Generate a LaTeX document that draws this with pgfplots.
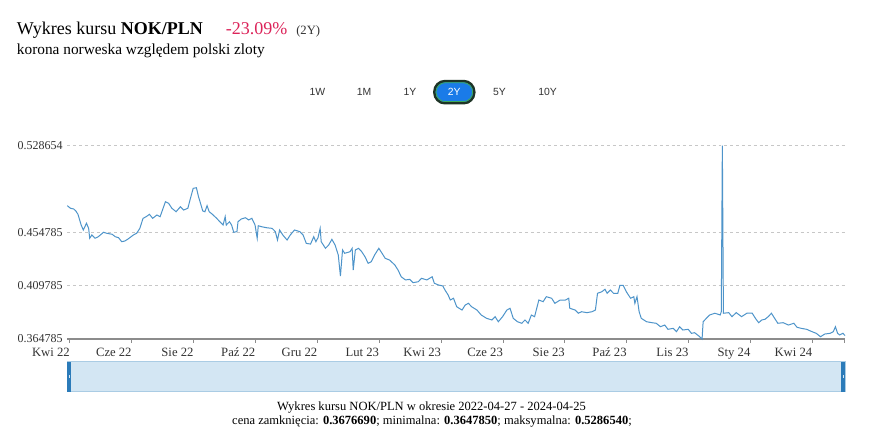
\documentclass[border=0pt]{standalone}
\usepackage{fontspec}
\setmainfont{Liberation Serif}
\newfontfamily\sansf{Liberation Sans}
\usepackage{pgfplots}
\pgfplotsset{compat=1.18}
\definecolor{serie}{RGB}{78,148,202}
\definecolor{pct}{RGB}{220,36,90}
\definecolor{txt}{RGB}{51,51,51}
\definecolor{navfill}{RGB}{211,230,243}
\definecolor{navedge}{RGB}{170,204,228}
\definecolor{handle}{RGB}{43,123,185}
\definecolor{btn}{RGB}{26,123,232}
\definecolor{btnedge}{RGB}{30,52,38}
\definecolor{btngreen}{RGB}{60,170,90}
\pgfplotstableread{
d v
0 0.4777
3 0.4755
6 0.4749
8 0.4732
10 0.4704
13 0.4613
15 0.4571
18 0.4628
20 0.4585
21 0.4501
23 0.4529
26 0.4501
29 0.4514
34 0.4552
37 0.4543
42 0.4535
45 0.4514
48 0.4506
51 0.4472
54 0.4478
57 0.4495
62 0.4529
65 0.4543
68 0.4585
71 0.4670
74 0.4684
77 0.4704
80 0.4670
84 0.4698
87 0.4684
92 0.4811
95 0.4797
98 0.4755
102 0.4726
106 0.4768
109 0.4740
113 0.4755
115 0.4825
118 0.4924
121 0.4929
123 0.4853
127 0.4732
129 0.4726
131 0.4777
133 0.4726
136 0.4704
140 0.4670
143 0.4641
146 0.4613
148 0.4684
149 0.4613
152 0.4641
154 0.4613
156 0.4552
159 0.4557
160 0.4641
163 0.4664
167 0.4675
170 0.4656
173 0.4670
176 0.4613
178 0.4501
179 0.4607
182 0.4599
187 0.4590
192 0.4585
195 0.4557
197 0.4486
199 0.4571
202 0.4529
206 0.4486
209 0.4529
213 0.4571
218 0.4557
221 0.4529
224 0.4458
228 0.4452
231 0.4514
233 0.4472
235 0.4506
237 0.4585
238 0.4472
242 0.4416
245 0.4444
248 0.4492
251 0.4444
254 0.4359
256 0.4181
258 0.4402
260 0.4374
265 0.4387
267 0.4416
268 0.4232
270 0.4402
273 0.4416
276 0.4387
279 0.4345
282 0.4289
285 0.4303
288 0.4359
292 0.4416
295 0.4374
298 0.4331
302 0.4317
307 0.4275
310 0.4232
313 0.4175
317 0.4148
321 0.4153
324 0.4125
329 0.4133
332 0.4162
337 0.4148
342 0.4175
344 0.4120
348 0.4105
352 0.4097
354 0.4063
357 0.4020
359 0.3978
362 0.3993
365 0.3921
370 0.3893
373 0.3936
376 0.3950
379 0.3921
384 0.3893
388 0.3851
393 0.3823
398 0.3809
401 0.3837
404 0.3794
408 0.3837
412 0.3893
415 0.3908
418 0.3823
422 0.3794
426 0.3781
429 0.3809
432 0.3781
435 0.3851
438 0.3837
442 0.3978
446 0.3964
449 0.4006
454 0.3993
457 0.3950
462 0.3978
467 0.3978
470 0.3993
471 0.3908
476 0.3893
479 0.3866
482 0.3879
487 0.3871
492 0.3879
495 0.3893
497 0.4035
501 0.4048
504 0.4069
506 0.4035
509 0.4063
512 0.4035
516 0.4035
518 0.4103
521 0.4103
524 0.4048
528 0.3993
531 0.4006
532 0.3950
534 0.4006
536 0.3879
538 0.3823
543 0.3794
548 0.3786
552 0.3781
556 0.3752
560 0.3766
563 0.3730
568 0.3738
571 0.3710
574 0.3752
577 0.3724
582 0.3730
585 0.3696
588 0.3701
592 0.3673
595 0.364785
596 0.3794
599 0.3823
602 0.3851
607 0.3866
612 0.3851
613 0.3879
614 0.528654
615 0.3866
620 0.3871
623 0.3837
627 0.3871
632 0.3837
637 0.3866
642 0.3866
645 0.3823
648 0.3786
651 0.3809
654 0.3815
657 0.3837
660 0.3866
663 0.3823
666 0.3781
671 0.3786
676 0.3766
681 0.3781
684 0.3747
688 0.3738
693 0.3730
698 0.3710
702 0.3696
706 0.3667
710 0.3690
715 0.3696
718 0.3710
720 0.3752
722 0.3696
724 0.3682
727 0.3696
729 0.367669
}\nokpln
\begin{document}
\begin{tikzpicture}[x=0.75pt,y=0.75pt]
\path[use as bounding box, fill=white] (0,0) rectangle (872,432);
% title
\node[anchor=base west, inner sep=0pt, font=\fontsize{13.5}{16}\selectfont] at (16.7,397.7) {Wykres kursu \textbf{NOK/PLN}};
\node[anchor=base west, inner sep=0pt, text=pct, font=\fontsize{13.5}{16}\selectfont] at (225.7,397.7) {-23.09\%};
\node[anchor=base west, inner sep=0pt, text=txt, font=\fontsize{9.5}{11}\selectfont] at (296,397.7) {(2Y)};
\node[anchor=base west, inner sep=0pt, font=\fontsize{11.5}{14}\selectfont] at (16.7,377.7) {korona norweska względem polski zloty};
% buttons
\draw[btnedge, line width=1.8pt, fill=btn, rounded corners=8pt] (434.3,328.7) rectangle (474.3,351);
\draw[btngreen, line width=0.6pt, rounded corners=7pt] (436,330.4) rectangle (472.6,349.3);
\begin{scope}[every node/.style={font=\sansf\fontsize{7.8}{9}\selectfont, text=txt, inner sep=0pt}]
\node at (317.5,340) {1W};
\node at (364,340) {1M};
\node at (410,340) {1Y};
\node[text=white] at (454.3,340) {2Y};
\node at (499.5,340) {5Y};
\node at (547.5,340) {10Y};
\end{scope}
% navigator
\draw[navedge, fill=navfill, line width=0.75pt] (67.3,40) rectangle (845,70);
\fill[handle] (67.3,40) rectangle (71,70);
\fill[handle] (841.3,40) rectangle (845,70);
\fill[white!80!handle] (68.6,53.5) rectangle (69.7,56.5);
\fill[white!80!handle] (842.6,53.5) rectangle (843.7,56.5);
% bottom text
\node[inner sep=0pt, font=\fontsize{9.4}{11}\selectfont] at (431.5,24) {Wykres kursu NOK/PLN w okresie 2022-04-27 - 2024-04-25};
\node[inner sep=0pt, font=\fontsize{9.4}{11}\selectfont] at (432,10) {cena zamknięcia: \textbf{0.3676690}; minimalna: \textbf{0.3647850}; maksymalna: \textbf{0.5286540};};
\begin{axis}[
  at={(50.475pt,69.75pt)}, anchor=south west,
  width=583.3pt, height=145.1pt, scale only axis,
  xmin=0, xmax=729, ymin=0.364785, ymax=0.528654,
  clip=false,
  axis x line*=bottom, axis y line*=left,
  y axis line style={draw=none},
  x axis line style={draw=black!45, line width=0.9pt},
  xtick={2.5,60.5,118.5,176.5,234.5,292.5,350.5,408.5,466.5,524.5,582.5,640.5,698.5,728.5},
  xticklabels={Kwi 22,Cze 22,Sie 22,Paź 22,Gru 22,Lut 23,Kwi 23,Cze 23,Sie 23,Paź 23,Lis 23,Sty 24,Kwi 24,},
  ytick={0.364785,0.409785,0.454785,0.528654},
  yticklabels={0.364785,0.409785,0.454785,0.528654},
  tick align=outside, major tick length=3pt,
  x tick style={draw=black!45, line width=0.75pt},
  y tick style={draw=none},
  xticklabel style={anchor=north east, inner xsep=0pt, font=\fontsize{9.5}{11}\selectfont, text=txt},
  yticklabel style={anchor=west, xshift=-37.7pt, font=\fontsize{9}{11}\selectfont, text=txt},
  ymajorgrids,
  major grid style={dash pattern=on 2.2pt off 2.2pt, draw=black!22, line width=0.6pt},
]
\addplot[serie, line width=0.75pt] table[x=d, y=v] {\nokpln};
\end{axis}
\end{tikzpicture}
\end{document}
